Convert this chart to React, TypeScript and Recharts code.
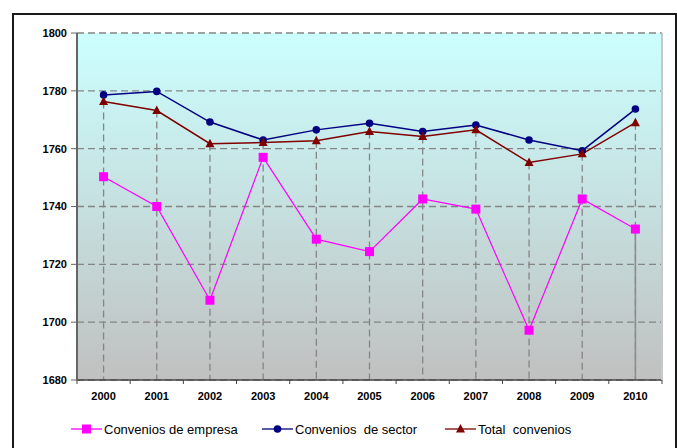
import { LineChart, Line, XAxis, YAxis, CartesianGrid, Legend, ReferenceLine } from 'recharts';

const YEARS = ['2000', '2001', '2002', '2003', '2004', '2005', '2006', '2007', '2008', '2009', '2010'];
const EMPRESA = [1750.3, 1740.0, 1707.6, 1757.0, 1728.7, 1724.4, 1742.6, 1739.1, 1697.2, 1742.6, 1732.2];
const SECTOR = [1778.6, 1779.8, 1769.2, 1763.0, 1766.5, 1768.8, 1765.9, 1768.2, 1763.0, 1759.3, 1773.7];
const TOTAL = [1776.3, 1773.2, 1761.7, 1762.1, 1762.7, 1765.9, 1764.2, 1766.5, 1755.2, 1758.2, 1769.0];
const Y_TICKS = [1680, 1700, 1720, 1740, 1760, 1780, 1800];
const Y_MIN = 1680;
const Y_MAX = 1800;

const SERIES = [
  { key: 'empresa', name: 'Convenios de empresa', color: '#FF00FF', shape: 'square' },
  { key: 'sector', name: 'Convenios  de sector', color: '#000080', shape: 'circle' },
  { key: 'total', name: 'Total  convenios', color: '#800000', shape: 'triangle' },
];

const data = YEARS.map((year, i) => ({
  year,
  empresa: EMPRESA[i],
  sector: SECTOR[i],
  total: TOTAL[i],
}));

const W = 677;
const H = 448;
const MARGIN = { top: 33, right: 14, left: 0, bottom: 38 };
const Y_AXIS_W = 77;
const PLOT_W = W - MARGIN.left - MARGIN.right - Y_AXIS_W - 1;
const BAND = PLOT_W / YEARS.length;
const FONT = '"Liberation Sans", Arial, sans-serif';
const LEGEND_X = [71, 262, 445];

function marker(shape: string, cx: number, cy: number, color: string, key?: any) {
  if (shape === 'square') {
    return <rect key={key} x={cx - 4.5} y={cy - 4.5} width={9} height={9} fill={color} />;
  }
  if (shape === 'triangle') {
    return (
      <polygon
        key={key}
        points={`${cx},${cy - 5} ${cx - 4.5},${cy + 3.5} ${cx + 4.5},${cy + 3.5}`}
        fill={color}
      />
    );
  }
  return <circle key={key} cx={cx} cy={cy} r={3.8} fill={color} />;
}

const XTick = (props: any) => {
  const { x, y, payload, index } = props;
  return (
    <g>
      <line x1={x - BAND / 2} y1={y} x2={x - BAND / 2} y2={y + 4} stroke="#444" strokeWidth={1} />
      {index === YEARS.length - 1 && (
        <line x1={x + BAND / 2} y1={y} x2={x + BAND / 2} y2={y + 4} stroke="#444" strokeWidth={1} />
      )}
      <text x={x} y={y + 16} textAnchor="middle" dominantBaseline="central" fontSize={11} fontWeight="bold" fill="#000" fontFamily={FONT}>
        {payload.value}
      </text>
    </g>
  );
};

const renderLegend = () => (
  <div style={{ position: 'relative', height: 20, fontFamily: FONT, fontSize: 13, color: '#000' }}>
    {SERIES.map((s, i) => (
      <div key={s.key} style={{ position: 'absolute', left: LEGEND_X[i], top: 0, height: 20, display: 'flex', alignItems: 'center' }}>
        <svg width={33} height={14} style={{ display: 'block' }}>
          <line x1={0} y1={7} x2={31} y2={7} stroke={s.color} strokeWidth={1.3} />
          {marker(s.shape, 15.5, 7, s.color)}
        </svg>
        <span style={{ whiteSpace: 'pre' }}>{s.name}</span>
      </div>
    ))}
  </div>
);

export default function App() {
  const last = YEARS.length - 1;
  return (
    <div style={{ position: 'absolute', left: 0, top: 0, width: W, height: H, overflow: 'hidden', background: '#fff' }}>
      <div
        style={{
          position: 'absolute',
          left: 12,
          top: 13,
          width: 665,
          height: 460,
          border: '2px solid #1a1a1a',
          boxSizing: 'border-box',
        }}
      />
      <LineChart width={W} height={H} data={data} margin={MARGIN}>
        <defs>
          <linearGradient id="plotBg" x1="0" y1="0" x2="0" y2="1">
            <stop offset="0%" stopColor="#CCFFFF" />
            <stop offset="100%" stopColor="#C0C0C0" />
          </linearGradient>
        </defs>
        <CartesianGrid
          fill="url(#plotBg)"
          fillOpacity={1}
          vertical={false}
          stroke="#858585"
          strokeWidth={1.3}
          strokeDasharray="7 4"
        />
        <XAxis
          dataKey="year"
          scale="band"
          interval={0}
          tickLine={false}
          tickSize={0}
          tickMargin={0}
          height={30}
          axisLine={{ stroke: '#444', strokeWidth: 1.5 }}
          tick={<XTick />}
        />
        <YAxis
          width={Y_AXIS_W}
          domain={[Y_MIN, Y_MAX]}
          ticks={Y_TICKS}
          interval={0}
          tickSize={6}
          tickMargin={4}
          axisLine={{ stroke: '#666', strokeWidth: 2 }}
          tickLine={{ stroke: '#666' }}
          tick={{ fontSize: 11, fontWeight: 'bold', fill: '#000', fontFamily: FONT }}
        />
        <YAxis
          yAxisId="right"
          orientation="right"
          width={1}
          domain={[Y_MIN, Y_MAX]}
          tick={false}
          tickLine={false}
          axisLine={{ stroke: '#c8c8c8', strokeWidth: 2 }}
        />
        {/* drop lines from the total series down to the axis */}
        {YEARS.map((year, i) => (
          <ReferenceLine
            key={`drop-${year}`}
            segment={[{ x: year, y: TOTAL[i] }, { x: year, y: Y_MIN }]}
            stroke="#858585"
            strokeWidth={1.3}
            strokeDasharray="7 4"
          />
        ))}
        <ReferenceLine
          segment={[{ x: YEARS[last], y: EMPRESA[last] }, { x: YEARS[last], y: Y_MIN }]}
          stroke="#8c8c8c"
          strokeWidth={1.5}
        />
        <Line
          dataKey="empresa"
          name={SERIES[0].name}
          stroke={SERIES[0].color}
          strokeWidth={1.2}
          isAnimationActive={false}
          dot={(p: any) => marker('square', p.cx, p.cy, SERIES[0].color, p.index)}
        />
        <Line
          dataKey="sector"
          name={SERIES[1].name}
          stroke={SERIES[1].color}
          strokeWidth={1.5}
          isAnimationActive={false}
          dot={(p: any) => marker('circle', p.cx, p.cy, SERIES[1].color, p.index)}
        />
        <Line
          dataKey="total"
          name={SERIES[2].name}
          stroke={SERIES[2].color}
          strokeWidth={1.5}
          isAnimationActive={false}
          dot={(p: any) => marker('triangle', p.cx, p.cy, SERIES[2].color, p.index)}
        />
        <Legend
          verticalAlign="middle"
          align="center"
          layout="horizontal"
          wrapperStyle={{ top: 419, left: 0, width: W }}
          content={renderLegend}
        />
      </LineChart>
    </div>
  );
}
